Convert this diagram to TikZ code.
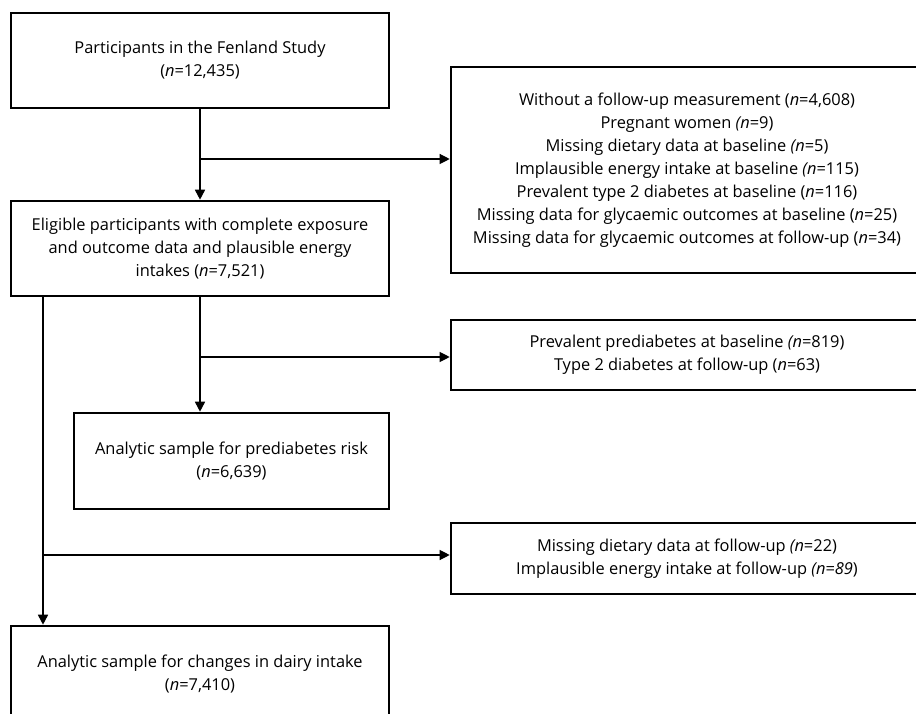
\documentclass[tikz,border=0pt]{standalone}
\usepackage{fontspec}
\setmainfont{Open Sans}
\usetikzlibrary{arrows.meta}
\tikzset{
  flowbox/.style={draw=black, line width=2.6pt, rectangle, align=center,
    inner sep=0pt, font=\fontsize{16.4}{23}\selectfont},
  mainline/.style={line width=1.7pt, -{Triangle[length=10pt,width=10pt]}},
  sideline/.style={line width=1.2pt, -{Triangle[length=10pt,width=10pt]}}
}
\begin{document}
\begin{tikzpicture}[x=1pt,y=-1pt]
\useasboundingbox (0,0) rectangle (916,714);
\clip (0,0) rectangle (916,714);

% main column
\node[flowbox, minimum width=378pt, minimum height=95pt] (b1) at (200,60.5)
  {Participants in the Fenland Study\\(\textit{n}=12,435)};
\node[flowbox, minimum width=378pt, minimum height=95pt] (b2) at (200,248.5)
  {Eligible participants with complete exposure\\and outcome data and plausible energy\\intakes (\textit{n}=7,521)};
\node[flowbox, minimum width=315pt, minimum height=96pt] (b3) at (231.5,461)
  {Analytic sample for prediabetes risk\\(\textit{n}=6,639)};
\node[flowbox, minimum width=378pt, minimum height=96pt] (b4) at (200,674)
  {Analytic sample for changes in dairy intake\\(\textit{n}=7,410)};

% exclusion boxes
\node[flowbox, minimum width=472pt, minimum height=206pt] (r1) at (687,170)
  {Without a follow-up measurement (\textit{n}=4,608)\\
   Pregnant women \textit{(n}=9)\\
   Missing dietary data at baseline \textit{(n}=5)\\
   Implausible energy intake at baseline \textit{(n}=115)\\
   Prevalent type 2 diabetes at baseline (\textit{n}=116)\\
   Missing data for glycaemic outcomes at baseline (\textit{n}=25)\\
   Missing data for glycaemic outcomes at follow-up (\textit{n}=34)};
\node[flowbox, minimum width=472pt, minimum height=70pt] (r2) at (687,355)
  {Prevalent prediabetes at baseline \textit{(n}=819)\\
   Type 2 diabetes at follow-up (\textit{n}=63)};
\node[flowbox, minimum width=472pt, minimum height=71pt] (r3) at (687,558.5)
  {Missing dietary data at follow-up \textit{(n}=22)\\
   Implausible energy intake at follow-up \textit{(n=89})};

% junctions
\coordinate (j1) at (200,159);
\coordinate (j2) at (200,357);
\coordinate (lx) at (43,0);
\coordinate (j3) at (43,555);

% connectors
\draw[mainline] (b1.south) -- (b2.north);
\draw[sideline] (j1) -- (j1 -| r1.west);
\draw[mainline] (b2.south) -- (b2.south |- b3.north);
\draw[sideline] (j2) -- (j2 -| r2.west);
\draw[mainline] (lx |- b2.south) -- (lx |- b4.north);
\draw[sideline] (j3) -- (j3 -| r3.west);
\end{tikzpicture}
\end{document}
